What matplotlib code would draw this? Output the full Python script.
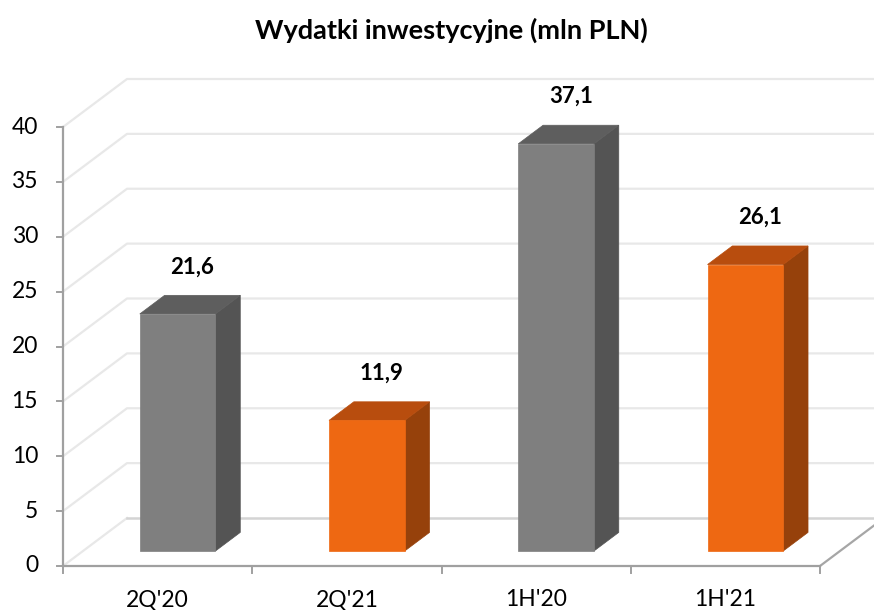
import matplotlib
matplotlib.use("Agg")
import matplotlib.pyplot as plt
from matplotlib.patches import Polygon

categories = ["2Q'20", "2Q'21", "1H'20", "1H'21"]
values = [21.6, 11.9, 37.1, 26.1]
labels = ["21,6", "11,9", "37,1", "26,1"]
bar_colors = ["gray", "orange", "gray", "orange"]
y_ticks = [0, 5, 10, 15, 20, 25, 30, 35, 40]
title = "Wydatki inwestycyjne (mln PLN)"

palette = {
    "gray": ("#7f7f7f", "#545454", "#5e5e5e"),
    "orange": ("#ee6812", "#96410b", "#b84d0e"),
}

plt.rcParams['font.family'] = ['Lato', 'DejaVu Sans']

W, H, DPI = 874, 610, 100
fig = plt.figure(figsize=(W / DPI, H / DPI), dpi=DPI)
ax = fig.add_axes([0, 0, 1, 1])
ax.axis('off')

# front plane mapping: category 0..4 -> px 63..820 ; value 0..40 -> px 566..127
px_cat = (820 - 63) / 4.0
px_val = (566 - 127) / 40.0
ax.set_xlim(-63 / px_cat, (W - 63) / px_cat)
ax.set_ylim(-(H - 566) / px_val, 566 / px_val)

DX = 64 / px_cat   # full depth shift, category units
DY = 48 / px_val   # full depth shift, value units
n = len(categories)
ymax = y_ticks[-1]


def P(x, y, d):
    return (x + d * DX, y + d * DY)


grid_c = "#e8e8e8"
xr = ax.get_xlim()[1] + 1
# left wall and back wall gridlines
for v in y_ticks[1:]:
    a, b = P(0, v, 0), P(0, v, 1)
    ax.plot([a[0], b[0], xr], [a[1], b[1], b[1]], color=grid_c, lw=1.6,
            solid_capstyle='butt', zorder=1)
# floor lines
a, b = P(0, 0, 0), P(0, 0, 1)
ax.plot([a[0], b[0]], [a[1], b[1]], color=grid_c, lw=1.6, zorder=1)
ax.plot([b[0], xr], [b[1], b[1]], color="#d4d4d4", lw=1.8, zorder=1)
c, e = P(n, 0, 0), P(n, 0, 1)
ax.plot([c[0], e[0]], [c[1], e[1]], color="#a6a6a6", lw=1.6, zorder=2)

# bars
d0, d1 = 0.3125, 0.70
bw = 0.40
for i, (v, ck) in enumerate(zip(values, bar_colors)):
    front, side, top = palette[ck]
    x0 = i + 0.5 - bw / 2
    x1 = i + 0.5 + bw / 2
    fr = [P(x0, 0, d0), P(x1, 0, d0), P(x1, v, d0), P(x0, v, d0)]
    sd = [P(x1, 0, d0), P(x1, 0, d1), P(x1, v, d1), P(x1, v, d0)]
    tp = [P(x0, v, d0), P(x1, v, d0), P(x1, v, d1), P(x0, v, d1)]
    for poly, col in ((sd, side), (tp, top), (fr, front)):
        ax.add_patch(Polygon(poly, closed=True, facecolor=col, edgecolor=col,
                             lw=0.5, zorder=3))
    lx, ly = P(i + 0.5, v, 0.5)
    ax.text(lx + 0.015, v + d1 * DY + 2.6, labels[i], ha='center', va='center',
            fontsize=16, fontweight='bold', color='black', zorder=5)

# axes lines
axis_c = "#a0a0a0"
ax.plot([0, 0], [0, ymax], color=axis_c, lw=1.6, zorder=4)
ax.plot([0, n], [0, 0], color=axis_c, lw=1.6, zorder=4)
tick_dx = 6 / px_cat
tick_dy = 7 / px_val
for v in y_ticks:
    ax.plot([-tick_dx, 0], [v, v], color=axis_c, lw=1.4, zorder=4)
    ax.text(-25 / px_cat, v, str(v), ha='right', va='center', fontsize=16.5,
            color='black')
for k in range(n + 1):
    ax.plot([k, k], [0, -tick_dy], color=axis_c, lw=1.4, zorder=4)
for i, c_ in enumerate(categories):
    ax.text(i + 0.5, -34 / px_val, c_, ha='center', va='center', fontsize=16.5,
            color='black')

fig.text(451 / W, 1 - 30 / H, title, ha='center', va='center', fontsize=19.5,
         fontweight='bold', color='black')

fig.savefig("out.png", dpi=DPI, facecolor='white')
